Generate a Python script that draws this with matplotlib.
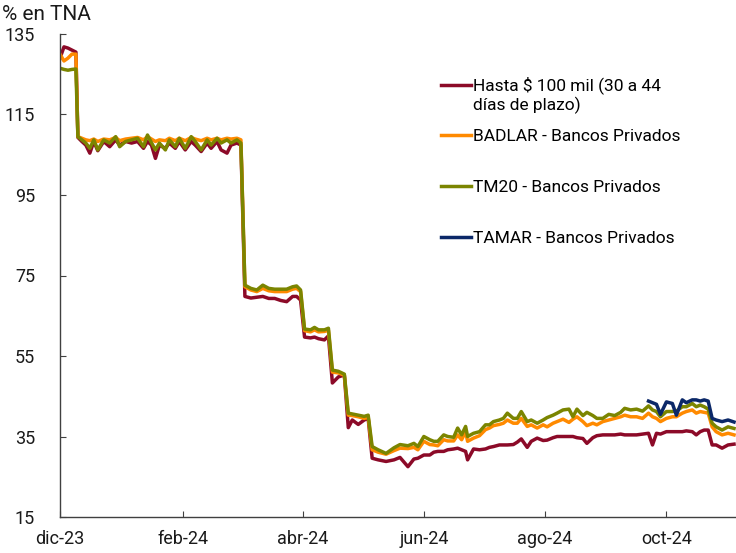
import pandas as pd
import matplotlib
matplotlib.use('Agg')
import matplotlib.pyplot as plt
from matplotlib.legend_handler import HandlerLine2D

plt.rcParams['font.family'] = ['Roboto', 'DejaVu Sans']

# dias contados desde el 1-dic-2023
start = pd.Timestamp('2023-12-01')
days = [0, 2, 4, 6, 8,
        9, 11, 13, 15, 17, 19, 22, 25, 28, 30, 33, 36, 39, 42, 44, 46, 48, 50, 53, 55,
        58, 60, 63, 66, 68, 71, 74, 76, 79, 81, 84, 86, 89, 91,
        93, 96, 99, 102, 105, 108, 111, 114, 117, 119, 121,
        123, 126, 128, 130, 133, 135,
        137, 140, 143,
        145, 147, 150, 153, 155,
        157, 160, 164, 168, 171, 175, 178, 180, 183, 186, 188, 190, 193, 195, 198, 200,
        202, 204, 205, 208, 211, 214, 216, 218, 221, 223, 225, 228, 230, 232, 235, 237, 240, 243,
        245, 248, 250, 253, 256, 258, 260, 263, 265, 268, 270, 273, 276, 279, 282, 284, 287, 290,
        293, 296, 298, 300, 302, 305, 308, 310, 313, 315, 318, 320, 322, 324, 326, 328, 330, 333, 336, 339]

hasta = [129.0, 131.8, 131.5, 131.0, 130.5,
         109.3, 108.3, 107.4, 105.4, 108.3, 106.0, 108.3, 107.0, 108.7, 107.4,
         108.3, 107.9, 108.3, 106.6, 108.3, 107.4, 104.1, 107.4, 106.6, 107.9,
         106.6, 108.3, 106.2, 108.3, 107.4, 105.8, 107.9, 106.6, 108.3, 106.2,
         105.4, 107.4, 107.9, 107.4,
         69.8, 69.4, 69.6, 69.8, 69.3, 69.3, 68.8, 68.5, 69.8, 69.8, 68.9,
         59.7, 59.5, 59.7, 59.3, 59.0, 60.0,
         48.3, 49.8, 50.3,
         37.2, 39.1, 38.0, 39.1, 39.5,
         29.6, 29.2, 28.8, 29.2, 29.8, 27.5, 29.4, 29.6, 30.4, 30.4,
         31.1, 31.3, 31.3, 31.7, 31.9, 32.1, 31.7, 31.3, 29.2, 31.9,
         31.7, 31.9, 32.3, 32.5, 32.9, 32.9, 32.9, 33.0, 33.6, 34.4,
         32.3, 33.8, 34.6, 34.0,
         34.1, 34.7, 35.0, 35.0, 35.0, 35.0, 34.7, 34.5, 33.3, 34.7,
         35.2, 35.4, 35.4, 35.4, 35.6, 35.4, 35.4, 35.4, 35.6, 35.8,
         32.9, 35.8, 35.6, 36.2, 36.2, 36.2, 36.2, 36.4, 36.2, 35.4,
         36.2, 36.6, 36.6, 32.9, 32.9, 32.1, 32.9, 33.1]

badlar = [130.0, 128.3, 129.0, 130.0, 130.0,
          109.5, 109.1, 108.7, 108.5, 108.9, 108.3, 108.9, 108.7, 109.3, 108.5,
          108.9, 109.1, 109.3, 108.7, 109.5, 108.9, 108.3, 108.7, 108.5, 109.1,
          108.5, 109.1, 108.5, 109.3, 108.9, 108.5, 109.1, 108.7, 109.1, 108.7,
          109.1, 108.9, 109.1, 108.7,
          72.2, 71.4, 71.0, 71.8, 71.2, 71.0, 71.0, 71.0, 71.6, 71.8, 71.0,
          61.3, 61.0, 61.5, 61.0, 61.1, 61.4,
          51.0, 50.8, 50.2,
          40.3, 40.2, 39.9, 39.5, 39.8,
          31.7, 31.1, 30.6, 31.5, 32.1, 32.0, 32.3, 31.7, 33.8, 33.0,
          32.9, 32.7, 34.2, 33.9, 33.9, 35.4, 34.2, 36.2, 33.8, 34.6,
          35.2, 36.7, 37.1, 37.7, 38.0, 38.3, 39.1, 38.3, 38.3, 39.5,
          37.5, 37.9, 37.1, 37.9,
          37.4, 38.3, 38.7, 39.3, 38.5, 39.3, 39.9, 38.7, 37.7, 38.3,
          37.9, 38.7, 39.1, 39.5, 39.9, 40.3, 39.9, 39.9, 39.5, 40.8,
          39.9, 39.5, 38.7, 39.5, 39.9, 39.9, 40.8, 41.2, 41.6, 40.8,
          41.2, 41.0, 40.8, 37.4, 36.2, 35.4, 35.8, 35.4]

tm20 = [126.5, 126.2, 126.0, 126.2, 126.3,
        109.5, 108.7, 107.9, 106.6, 108.7, 106.2, 108.7, 107.9, 109.5, 107.0,
        108.3, 108.7, 109.1, 107.0, 109.9, 108.0, 106.2, 107.9, 106.2, 108.7,
        107.0, 109.1, 106.6, 109.5, 108.3, 106.2, 108.7, 107.4, 109.1, 107.9,
        108.7, 107.9, 108.7, 107.9,
        72.6, 71.8, 71.4, 72.6, 71.8, 71.6, 71.6, 71.6, 72.2, 72.4, 71.4,
        61.7, 61.5, 62.1, 61.5, 61.5, 61.9,
        51.5, 51.2, 50.5,
        40.8, 40.6, 40.3, 40.0, 40.3,
        32.5, 31.7, 30.8, 32.2, 33.0, 32.7, 33.3, 32.5, 35.0, 34.2,
        33.8, 33.8, 35.4, 35.0, 34.8, 37.1, 35.4, 37.5, 35.0, 35.8,
        36.2, 37.9, 37.9, 38.7, 39.1, 39.5, 40.8, 39.5, 39.5, 41.2,
        38.7, 39.1, 38.3, 39.1,
        39.7, 40.3, 40.8, 41.6, 41.8, 39.9, 41.8, 40.2, 41.0, 40.2,
        39.5, 39.5, 40.5, 40.2, 41.0, 42.0, 41.6, 41.8, 41.3, 42.6,
        41.6, 41.2, 39.9, 41.2, 41.2, 41.3, 42.4, 42.4, 43.2, 42.4,
        42.8, 42.4, 41.8, 38.3, 37.4, 36.6, 37.4, 37.0]

tamar_days = [296, 298, 300, 302, 305, 308, 310, 313, 315, 318, 320, 322, 324, 326,
              328, 330, 333, 336, 339]
tamar = [43.8, 43.4, 43.0, 40.5, 43.6, 43.2, 40.3, 44.1, 43.4, 44.1, 44.1, 43.8, 44.1, 43.8,
         39.5, 39.1, 38.7, 39.1, 38.6]

labels = ['Hasta $ 100 mil (30 a 44\ndías de plazo)', 'BADLAR - Bancos Privados',
          'TM20 - Bancos Privados', 'TAMAR - Bancos Privados']
colors = ['#8C0A28', '#FF8A00', '#7B8500', '#0B2868']

tick_dates = ['2023-12-01', '2024-02-01', '2024-04-01', '2024-06-01', '2024-08-01', '2024-10-01']
tick_labels = ['dic-23', 'feb-24', 'abr-24', 'jun-24', 'ago-24', 'oct-24']
y_ticks = [15, 35, 55, 75, 95, 115, 135]


class FirstLineHandler(HandlerLine2D):
    # pone la linea de la leyenda a la altura del primer renglon
    def create_artists(self, legend, orig_handle, xdescent, ydescent, width, height,
                       fontsize, trans):
        arts = super().create_artists(legend, orig_handle, xdescent, ydescent, width,
                                      height, fontsize, trans)
        for a in arts:
            a.set_ydata([y + 0.55 * fontsize for y in a.get_ydata()])
        return arts


dates = start + pd.to_timedelta(days, unit='D')
tamar_dates = start + pd.to_timedelta(tamar_days, unit='D')

fig = plt.figure(figsize=(7.36, 5.53), dpi=100)
ax = fig.add_axes([60 / 736, 36 / 553, 676 / 736, 483 / 553])

l1, = ax.plot(dates, hasta, color=colors[0], lw=2.5, label=labels[0])
l2, = ax.plot(dates, badlar, color=colors[1], lw=2.5, label=labels[1])
l3, = ax.plot(dates, tm20, color=colors[2], lw=2.5, label=labels[2])
l4, = ax.plot(tamar_dates, tamar, color=colors[3], lw=2.5, label=labels[3])

ax.set_ylim(15, 135)
ax.set_yticks(y_ticks)
ax.set_xlim(start, start + pd.Timedelta(days=340))
ax.set_xticks(pd.to_datetime(tick_dates))
ax.set_xticklabels(tick_labels)

for s in ['top', 'right']:
    ax.spines[s].set_visible(False)
for s in ['left', 'bottom']:
    ax.spines[s].set_color('#404040')
    ax.spines[s].set_linewidth(1.0)

ax.tick_params(axis='both', direction='in', length=4, color='#404040', labelsize=13,
               labelcolor='#1a1a1a')
ax.tick_params(axis='y', pad=18)
ax.tick_params(axis='x', pad=9)

fig.text(0.003, 1 - 14 / 553, '% en TNA', fontsize=15, va='center', ha='left', color='#1a1a1a')

leg1 = ax.legend(handles=[l1], loc='upper left', bbox_to_anchor=(0.5636, 0.913),
                 frameon=False, fontsize=12.5, handlelength=1.75, handletextpad=0.12,
                 borderpad=0, borderaxespad=0, handler_map={l1: FirstLineHandler()})
ax.add_artist(leg1)
ax.legend(handles=[l2, l3, l4], loc='upper left', bbox_to_anchor=(0.5636, 0.803),
          frameon=False, fontsize=12.5, handlelength=1.75, handletextpad=0.12,
          borderpad=0, borderaxespad=0, labelspacing=2.05)

fig.savefig('out.png', dpi=100)
